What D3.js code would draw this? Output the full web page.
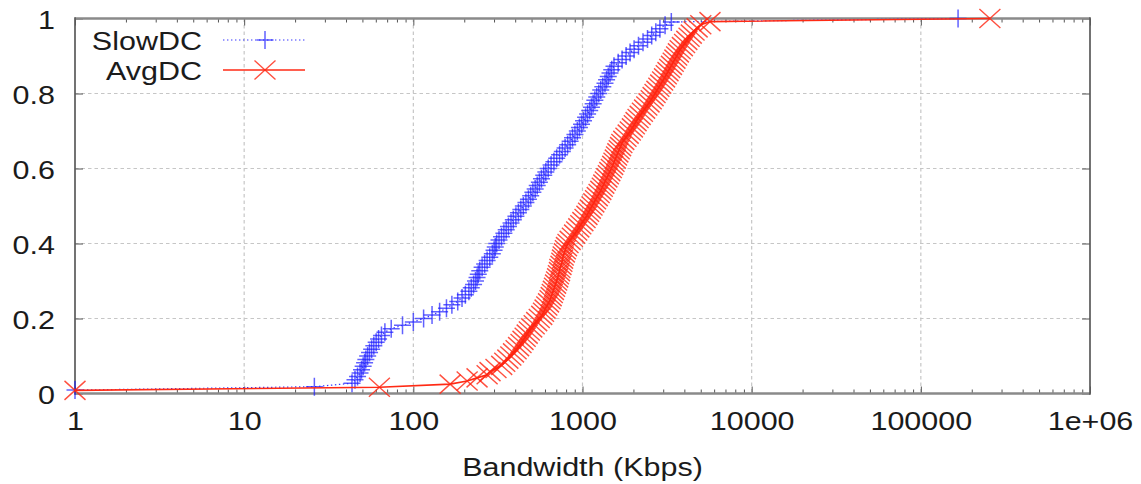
<!DOCTYPE html>
<html>
<head>
<meta charset="utf-8">
<script src="https://cdn.jsdelivr.net/npm/d3@7"></script>
<style>
  html, body { margin: 0; padding: 0; background: #fff; }
  svg { display: block; }
  text { font-family: "Liberation Sans", Arial, Helvetica, sans-serif; font-size: 25px; fill: #1b1b1b; }
</style>
</head>
<body>
<svg id="chart" width="1141" height="484"></svg>
<script>
// Sorted bandwidth samples (Kbps) for each data-centre class
const seriesNames = ["SlowDC", "AvgDC"];

const slowDC = [1, 26, 43.4, 45.2, 46.8, 48.4, 49.4, 50.5, 51.5, 52.4,
  53.7, 55.1, 56.7, 58.4, 60.3, 62.3, 64.8, 67.9, 74, 86.3,
  100, 115, 129, 143, 157, 169, 183, 194, 203, 213,
  220, 227, 233, 238, 242, 247, 255, 264, 273, 283,
  293, 300, 305, 311, 321, 332, 343, 354, 365, 378,
  390, 404, 418, 432, 447, 463, 479, 494, 509, 525,
  540, 556, 572, 590, 607, 627, 652, 678, 704, 732,
  760, 789, 817, 845, 873, 902, 932, 959, 987, 1014,
  1043, 1072, 1103, 1129, 1156, 1183, 1214, 1248, 1282, 1318,
  1358, 1388, 1420, 1454, 1489, 1535, 1625, 1714, 1810, 1910,
  2018, 2143, 2279, 2423, 2565, 2712, 2868, 3077, 3350, 166000];

const avgDC = [1, 63, 165, 208, 238, 273, 284, 308, 333, 347,
  362, 377, 391, 405, 419, 433, 445, 458, 471, 485,
  501, 518, 536, 555, 574, 588, 601, 615, 630, 643,
  653, 663, 673, 683, 693, 703, 713, 721, 731, 735,
  746, 755, 762, 769, 781, 792, 804, 821, 845, 871,
  898, 924, 951, 977, 1005, 1035, 1062, 1086, 1112, 1138,
  1166, 1194, 1222, 1253, 1283, 1309, 1336, 1364, 1393, 1422,
  1450, 1480, 1508, 1535, 1563, 1589, 1618, 1648, 1679, 1708,
  1754, 1807, 1862, 1916, 1972, 2024, 2073, 2130, 2193, 2260,
  2329, 2399, 2473, 2547, 2614, 2684, 2754, 2827, 2900, 2976,
  3054, 3126, 3201, 3278, 3356, 3437, 3518, 3602, 3688, 3778,
  3895, 4012, 4137, 4265, 4396, 4564, 4760, 5003, 5670, 256000];

const xTickValues = [1, 10, 100, 1000, 10000, 100000, 1000000];
const xTickLabels = ["1", "10", "100", "1000", "10000", "100000", "1e+06"];
const yTickValues = [0, 0.2, 0.4, 0.6, 0.8, 1];
const yTickLabels = ["0", "0.2", "0.4", "0.6", "0.8", "1"];
const xTitle = "Bandwidth (Kbps)";

// Layout
const frame = { left: 75, right: 1090, top: 18.5, bottom: 393.5 };
const widen = 1.22;                       // horizontal stretch of the lettering
const stretch = `scale(${widen},1)`;

const svg = d3.select("#chart");
const x = d3.scaleLog().domain([1, 1e6]).range([frame.left, frame.right]);
const y = d3.scaleLinear().domain([0, 1]).range([frame.bottom, frame.top]);

// Empirical CDF: fraction of samples at or below each sorted value
const cdf = vals => vals.map((v, i) => ({ v, p: (i + 1) / vals.length }));
const slowPts = cdf(slowDC);
const avgPts = cdf(avgDC);

// Minor log ticks 2..9 in every decade
const minorTicks = [];
for (let e = 0; e < 6; e++) for (let k = 2; k <= 9; k++) minorTicks.push(k * Math.pow(10, e));

// Dashed grid
const grid = svg.append("g").attr("stroke", "#c6c6c6").attr("stroke-width", 1.2)
  .attr("stroke-dasharray", "3.5,3");
grid.selectAll("line.gx").data(xTickValues.slice(1, -1)).join("line").attr("class", "gx")
  .attr("x1", d => x(d)).attr("x2", d => x(d)).attr("y1", frame.top).attr("y2", frame.bottom);
grid.selectAll("line.gy").data(yTickValues.slice(1, -1)).join("line").attr("class", "gy")
  .attr("x1", frame.left).attr("x2", frame.right).attr("y1", d => y(d)).attr("y2", d => y(d));

// Axes: bottom with labels, top mirrored ticks, minor ticks on both
const axB = svg.append("g").attr("transform", `translate(0,${frame.bottom})`)
  .call(d3.axisBottom(x).tickValues(xTickValues).tickFormat((d, i) => xTickLabels[i])
    .tickSizeInner(-7).tickSizeOuter(0));
axB.selectAll(".tick text").attr("y", 36.5).attr("dy", null).attr("transform", stretch);

const axBm = svg.append("g").attr("transform", `translate(0,${frame.bottom})`)
  .call(d3.axisBottom(x).tickValues(minorTicks).tickFormat("").tickSizeInner(-4).tickSizeOuter(0));
const axT = svg.append("g").attr("transform", `translate(0,${frame.top})`)
  .call(d3.axisTop(x).tickValues(xTickValues).tickFormat("").tickSizeInner(-7).tickSizeOuter(0));
const axTm = svg.append("g").attr("transform", `translate(0,${frame.top})`)
  .call(d3.axisTop(x).tickValues(minorTicks).tickFormat("").tickSizeInner(-4).tickSizeOuter(0));

const axL = svg.append("g").attr("transform", `translate(${frame.left},0)`)
  .call(d3.axisLeft(y).tickValues(yTickValues).tickFormat((d, i) => yTickLabels[i])
    .tickSizeInner(-8).tickSizeOuter(0));
axL.selectAll(".tick text").attr("x", -20 / widen).attr("y", 9.5).attr("dy", null)
  .attr("transform", stretch);
const axR = svg.append("g").attr("transform", `translate(${frame.right},0)`)
  .call(d3.axisRight(y).tickValues(yTickValues).tickFormat("").tickSizeInner(-8).tickSizeOuter(0));

[axB, axBm, axT, axTm, axL, axR].forEach(g => {
  g.select(".domain").remove();
  g.selectAll(".tick line").attr("stroke", "#555").attr("stroke-width", 1);
});

// Border
const border = svg.append("g");
border.append("line").attr("x1", frame.left).attr("x2", frame.right)
  .attr("y1", frame.top).attr("y2", frame.top).attr("stroke", "#8a8a8a").attr("stroke-width", 2.6);
border.append("line").attr("x1", frame.left).attr("x2", frame.right)
  .attr("y1", frame.bottom).attr("y2", frame.bottom).attr("stroke", "#8a8a8a").attr("stroke-width", 2.6);
border.append("line").attr("x1", frame.left).attr("x2", frame.left)
  .attr("y1", frame.top - 1.3).attr("y2", frame.bottom + 1.3).attr("stroke", "#5a5a5a").attr("stroke-width", 1.7);
border.append("line").attr("x1", frame.right).attr("x2", frame.right)
  .attr("y1", frame.top - 1.3).attr("y2", frame.bottom + 1.3).attr("stroke", "#5a5a5a").attr("stroke-width", 1.7);

// Axis title
svg.append("text").attr("transform", `translate(582.5,476) ${stretch}`)
  .attr("text-anchor", "middle").text(xTitle);

// Series styling
const plusPath = "M-8.5,0H8.5M0,-9V9";
const crossPath = "M-10.5,-9.5L10.5,9.5M-10.5,9.5L10.5,-9.5";
const styles = [
  { pts: slowPts, line: "#3636ff", dash: "1.4,2.6", lw: 1.2, mk: plusPath, mc: "#1e1eff", mw: 1.5, mo: 0.7 },
  { pts: avgPts, line: "#ff2a14", dash: null, lw: 1.6, mk: crossPath, mc: "#ff2410", mw: 1.4, mo: 0.8 }
];

const line = d3.line().x(d => x(d.v)).y(d => y(d.p));
styles.forEach(s => {
  const g = svg.append("g");
  g.append("path").datum(s.pts).attr("d", line).attr("fill", "none")
    .attr("stroke", s.line).attr("stroke-width", s.lw).attr("stroke-dasharray", s.dash);
  g.selectAll("path.mk").data(s.pts).join("path").attr("class", "mk")
    .attr("transform", d => `translate(${x(d.v)},${y(d.p)})`)
    .attr("d", s.mk).attr("fill", "none").attr("stroke", s.mc)
    .attr("stroke-width", s.mw).attr("stroke-opacity", s.mo);
});

// Legend
const legend = svg.append("g");
const legendRows = [40, 70];
seriesNames.forEach((name, i) => {
  const s = styles[i];
  const ly = legendRows[i];
  legend.append("text").attr("transform", `translate(202,${ly + 9.5}) ${stretch}`)
    .attr("text-anchor", "end").text(name);
  legend.append("line").attr("x1", 223).attr("x2", 305).attr("y1", ly).attr("y2", ly)
    .attr("stroke", s.line).attr("stroke-width", s.lw).attr("stroke-dasharray", s.dash);
  legend.append("path").attr("transform", `translate(265,${ly})`).attr("d", s.mk)
    .attr("fill", "none").attr("stroke", s.mc).attr("stroke-width", s.mw).attr("stroke-opacity", s.mo);
});
</script>
</body>
</html>
